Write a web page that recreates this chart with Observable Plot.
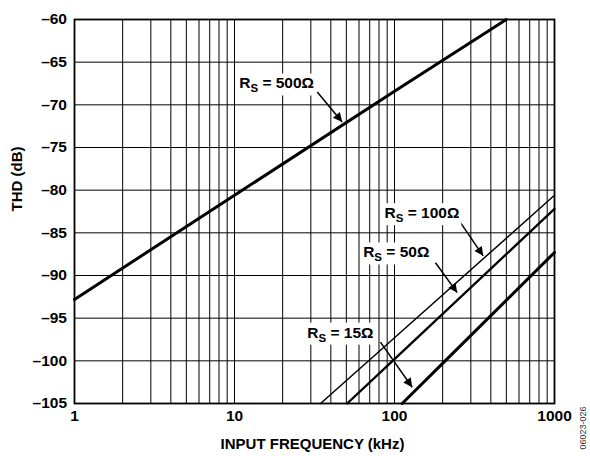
<!DOCTYPE html>
<html><head><meta charset="utf-8">
<script src="https://cdn.jsdelivr.net/npm/d3@7"></script>
<script src="https://cdn.jsdelivr.net/npm/@observablehq/plot@0.6"></script>
<style>body{margin:0;background:#fff} svg{display:block}</style>
</head><body><div id="chart"></div>
<script>
// ---- data ----
const xTicks = [1, 10, 100, 1000];
const yTicks = [-60, -65, -70, -75, -80, -85, -90, -95, -100, -105];
const xGrid = [2,3,4,5,6,7,8,9,10,20,30,40,50,60,70,80,90,100,200,300,400,500,600,700,800,900];
const yGrid = [-65, -70, -75, -80, -85, -90, -95, -100];

const freq500 = [1, 10, 100, 500];
const thd500  = [-92.8, -80.6, -68.4, -60];
const freq100 = [34.5, 100, 1000];
const thd100  = [-105, -97.3, -80.6];
const freq50  = [50.6, 100, 1000];
const thd50   = [-105, -99.8, -82.2];
const freq15  = [111.7, 200, 1000];
const thd15   = [-105, -100.3, -87.3];

const seriesNames = ["500Ω", "100Ω", "50Ω", "15Ω"];
const xTitle = "INPUT FREQUENCY (kHz)";
const yTitle = "THD (dB)";
const figId = "06023-026";

// annotation anchors (data units)
const annotations = [
  {label: seriesNames[0], lx: 10.7, ly: -67.5, x1: 32.9, y1: -68.5, x2: 47.1, y2: -72.0},
  {label: seriesNames[1], lx: 86.6, ly: -82.7, x1: 258.5, y1: -83.8, x2: 358.3, y2: -87.7},
  {label: seriesNames[2], lx: 63.7, ly: -87.3, x1: 180.4, y1: -88.5, x2: 246.5, y2: -92.0},
  {label: seriesNames[3], lx: 28.5, ly: -96.7, x1: 81.7, y1: -97.8, x2: 129, y2: -103.1}
];

const toRows = (fs, ts) => fs.map((f, i) => ({f, t: ts[i]}));
const d500 = toRows(freq500, thd500);
const d100 = toRows(freq100, thd100);
const d50 = toRows(freq50, thd50);
const d15 = toRows(freq15, thd15);

const fmtY = d => String(d).replace("-", "\u2013");
const FONT = "'Liberation Sans', Arial, Helvetica, sans-serif";

const chart = Plot.plot({
  width: 590, height: 456,
  marginLeft: 74, marginRight: 36, marginTop: 19, marginBottom: 53,
  x: {type: "log", domain: [1, 1000], axis: null},
  y: {domain: [-105, -60], axis: null},
  style: {fontFamily: FONT, fontSize: "15px", background: "white", color: "black"},
  marks: [
    Plot.ruleX(xGrid, {stroke: "#000", strokeWidth: 1}),
    Plot.ruleY(yGrid, {stroke: "#000", strokeWidth: 1}),
    Plot.frame({stroke: "#000", strokeWidth: 1.8}),
    Plot.line(d500, {x: "f", y: "t", stroke: "#000", strokeWidth: 3}),
    Plot.line(d100, {x: "f", y: "t", stroke: "#000", strokeWidth: 1.5}),
    Plot.line(d50, {x: "f", y: "t", stroke: "#000", strokeWidth: 2.3}),
    Plot.line(d15, {x: "f", y: "t", stroke: "#000", strokeWidth: 3}),
    Plot.link(annotations, {x1: "x1", y1: "y1", x2: "x2", y2: "y2", stroke: "#000", strokeWidth: 1.5, className: "ann-arrow"}),
    Plot.text(annotations, {x: "lx", y: "ly", text: "label", textAnchor: "start", fontSize: 15.5, fontWeight: "bold", fill: "#000", className: "rs-label"}),
    // tick labels
    Plot.text(xTicks, {x: d => d, text: d => String(d), frameAnchor: "bottom", dy: 17, fontSize: 15.5, fontWeight: "bold", fill: "#000"}),
    Plot.text(yTicks, {y: d => d, text: fmtY, frameAnchor: "left", dx: -7.5, textAnchor: "end", fontSize: 15.5, fontWeight: "bold", fill: "#000"}),
    // titles
    Plot.text([xTitle], {frameAnchor: "bottom", dy: 45, dx: -2, fontSize: 15, fontWeight: "bold", fill: "#000"}),
    Plot.text([yTitle], {frameAnchor: "left", dx: -57, rotate: -90, fontSize: 15, fontWeight: "bold", fill: "#000"}),
    Plot.text([figId], {frameAnchor: "bottom-right", dx: 31, dy: 3, rotate: -90, textAnchor: "end", fontSize: 9, fill: "#333"})
  ]
});
document.getElementById("chart").append(chart);

// arrowheads (filled triangles)
const svg = d3.select(chart.tagName.toLowerCase() === "svg" ? chart : chart.querySelector("svg"));
const defs = svg.insert("defs", ":first-child");
defs.append("marker")
  .attr("id", "ah").attr("viewBox", "0 0 10 10").attr("refX", 10).attr("refY", 5)
  .attr("markerWidth", 12).attr("markerHeight", 9).attr("markerUnits", "userSpaceOnUse")
  .attr("orient", "auto")
  .append("path").attr("d", "M0,0L10,5L0,10z").attr("fill", "#000");
svg.selectAll(".ann-arrow path, .ann-arrow line").attr("marker-end", "url(#ah)");

// R with subscript S, on a white box
svg.selectAll(".rs-label text").each(function() {
  const t = d3.select(this);
  const rest = this.textContent;
  t.text(null);
  t.append("tspan").text("R");
  t.append("tspan").attr("dy", 4).attr("font-size", 11.5).text("S");
  t.append("tspan").attr("dy", -4).text(" = " + rest);
  const bb = this.getBBox();
  d3.select(this.parentNode).insert("rect", () => this)
    .attr("x", bb.x - 2).attr("y", bb.y - 1)
    .attr("width", bb.width + 4).attr("height", bb.height + 2)
    .attr("transform", this.getAttribute("transform"))
    .attr("fill", "white");
});
</script></body></html>
